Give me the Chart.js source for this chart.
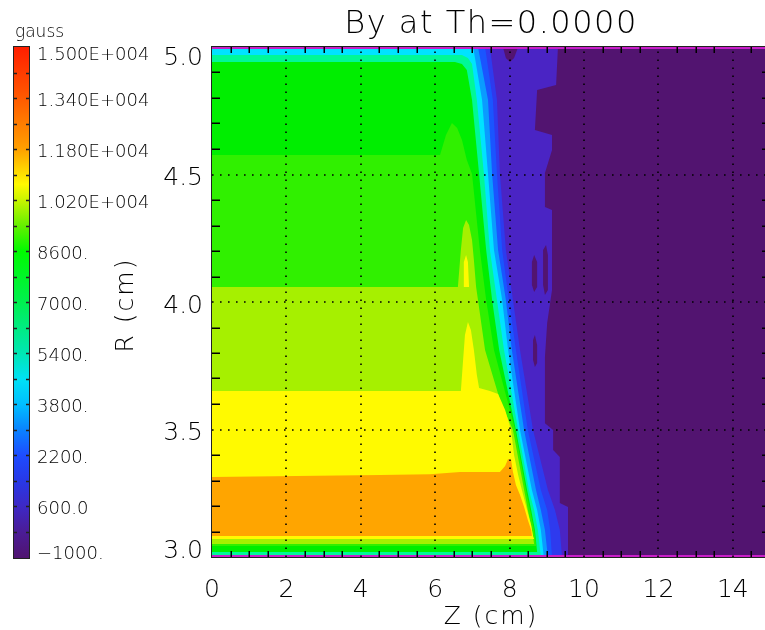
<!DOCTYPE html>
<html><head><meta charset="utf-8">
<script src="https://cdn.jsdelivr.net/npm/chart.js@4/dist/chart.umd.min.js"></script>
<style>html,body{margin:0;padding:0;background:#fff;overflow:hidden;}canvas{display:block;}</style>
</head><body>
<canvas id="c" width="775" height="630"></canvas>
<script>
// ---------- data (Z in cm, R in cm) ----------
const chartTitle = 'By at Th=0.0000';
const xTitle = 'Z (cm)';
const yTitle = 'R (cm)';
const unitLabel = 'gauss';
const zTicks = [0, 2, 4, 6, 8, 10, 12, 14];
const zTickLabels = ['0', '2', '4', '6', '8', '10', '12', '14'];
const rTicks = [3.0, 3.5, 4.0, 4.5, 5.0];
const rTickLabels = ['3.0', '3.5', '4.0', '4.5', '5.0'];
const cbTickValues = [-1000, 600, 2200, 3800, 5400, 7000, 8600, 10200, 11800, 13400, 15000];
const cbTickLabels = ['\u22121000.', '600.0', '2200.', '3800.', '5400.', '7000.', '8600.', '1.020E+004', '1.180E+004', '1.340E+004', '1.500E+004'];
const cbStopValues = [-1000, -200, 600, 1400, 2200, 3000, 3800, 4600, 5400, 7000, 8600, 9400, 10200, 10700, 11800, 13400, 15000];

// contour bands: polygons [Z, R], lowest level first
const bandPurple = [[0,5],[15,5],[15,3],[0,3]];
const bandViolet = [[0,5],[9.30,5],[9.25,4.851],[8.74,4.831],[8.68,4.675],[9.14,4.655],[9.14,4.596],[8.95,4.506],[8.95,4.373],[9.14,4.361],[9.14,4.047],[9.01,3.918],[8.95,3.784],[8.95,3.525],[9.17,3.498],[9.17,3.420],[9.35,3.392],[9.35,3.212],[9.57,3.196],[9.57,3],[0,3]];
const islandPurple1 = [[7.82,5],[8.23,5],[8.12,4.957],[8.01,4.941],[7.90,4.957]];
const islandPurple2 = [[8.60,4.157],[8.66,4.184],[8.74,4.157],[8.74,4.059],[8.66,4.039],[8.60,4.067]];
const islandPurple3 = [[8.90,4.204],[8.98,4.224],[9.03,4.184],[9.03,4.047],[8.95,4.027],[8.90,4.067]];
const islandPurple4 = [[8.63,3.851],[8.68,3.871],[8.74,3.831],[8.74,3.761],[8.68,3.745],[8.63,3.773]];
const bandBlue2 = [[0,5],[7.47,5],[7.66,4.792],[7.74,4.502],[7.90,4.204],[8.09,4.008],[8.28,3.812],[8.63,3.498],[9.03,3.263],[9.22,3.184],[9.35,3.106],[9.41,3],[0,3]];
const bandBlue = [[0,5],[7.34,5],[7.55,4.792],[7.66,4.502],[7.80,4.204],[7.98,4.008],[8.17,3.812],[8.49,3.498],[8.84,3.263],[9.01,3.184],[9.09,3.106],[9.14,3],[0,3]];
const bandLightBlue = [[0,5],[7.15,5],[7.42,4.792],[7.53,4.502],[7.69,4.204],[7.90,4.008],[8.06,3.812],[8.39,3.498],[8.71,3.263],[8.84,3.184],[8.95,3.106],[9.03,3],[0,3]];
const bandCyan = [[0,5],[7.02,5],[7.26,4.792],[7.42,4.502],[7.58,4.204],[7.80,4.008],[7.96,3.812],[8.28,3.498],[8.60,3.263],[8.74,3.184],[8.84,3.106],[8.92,3],[0,3]];
const bandAqua = [[0,4.969],[6.72,4.969],[6.88,4.957],[6.99,4.933],[7.12,4.792],[7.31,4.502],[7.47,4.204],[7.66,4.008],[7.85,3.812],[8.23,3.498],[8.52,3.263],[8.66,3.184],[8.76,3.106],[8.84,3],[0,3]];
const bandGreen = [[0,4.941],[6.53,4.941],[6.72,4.933],[6.85,4.910],[6.99,4.792],[7.18,4.502],[7.37,4.204],[7.53,4.008],[7.72,3.812],[8.17,3.498],[8.47,3.263],[8.58,3.184],[8.68,3.106],[8.74,3.020],[0,3.020]];
const bandLightGreen = [[0,4.576],[6.13,4.576],[6.29,4.655],[6.45,4.702],[6.59,4.682],[6.72,4.635],[6.85,4.557],[6.99,4.502],[7.20,4.204],[7.37,4.008],[7.58,3.812],[8.15,3.498],[8.44,3.263],[8.55,3.184],[8.66,3.106],[8.71,3.043],[0,3.043]];
const bandYellowGreen = [[0,4.059],[6.61,4.059],[6.69,4.204],[6.75,4.290],[6.83,4.322],[6.91,4.302],[6.99,4.243],[7.04,4.165],[7.10,4.059],[7.15,4.008],[7.34,3.812],[7.74,3.616],[8.09,3.498],[8.39,3.263],[8.49,3.184],[8.60,3.106],[8.66,3.051],[0,3.051]];
const islandYellow = [[6.75,4.059],[6.77,4.157],[6.83,4.184],[6.88,4.157],[6.91,4.059]];
const bandYellow = [[0,3.651],[6.69,3.651],[6.75,3.773],[6.80,3.871],[6.88,3.922],[6.96,3.890],[7.04,3.812],[7.12,3.714],[7.18,3.663],[7.47,3.651],[7.69,3.639],[7.88,3.576],[8.04,3.498],[8.12,3.400],[8.23,3.322],[8.33,3.263],[8.47,3.184],[8.58,3.125],[8.63,3.082],[8.66,3.071],[0,3.071]];
const bandOrange = [[0,3.314],[4.52,3.322],[5.86,3.325],[6.67,3.333],[7.74,3.333],[7.88,3.357],[7.96,3.384],[8.04,3.380],[8.09,3.333],[8.17,3.282],[8.28,3.243],[8.39,3.196],[8.49,3.145],[8.58,3.106],[8.60,3.082],[0,3.082]];

// ---------- styles ----------
const layers = [
  [bandPurple, '#521470'], [bandViolet, '#4A24C4'],
  [islandPurple1, '#521470'], [islandPurple2, '#521470'], [islandPurple3, '#521470'], [islandPurple4, '#521470'],
  [bandBlue2, '#2E3AEE'], [bandBlue, '#1A55FF'], [bandLightBlue, '#0A9BFF'], [bandCyan, '#00E3FF'],
  [bandAqua, '#00F896'], [bandGreen, '#00EE00'], [bandLightGreen, '#30F000'], [bandYellowGreen, '#A6F000'],
  [islandYellow, '#FFFA00'], [bandYellow, '#FFFA00'], [bandOrange, '#FFA500']
];
const cbStopColors = ['#501470','#4B1C96','#3E28C4','#2838E6','#1E4BFF','#0A82FF','#00BEFF','#00E1F5','#00E6B4','#00F050','#00FA00','#64F000','#C8F500','#FFFA00','#FFA000','#FF5A00','#FF1E00'];
const FONT = '"DejaVu Sans", "Liberation Sans", sans-serif';
const W = '200 ';
const TXT = '#000';

const datasets = layers.map((l, i) => ({
  data: l[0].map(p => ({x: p[0], y: p[1]})),
  backgroundColor: l[1],
  borderColor: 'rgba(0,0,0,0)',
  borderWidth: 0,
  pointRadius: 0,
  tension: 0,
  fill: 'shape',
  order: layers.length - i,
  xAxisID: 'x', yAxisID: 'y'
}));

const decor = {
  id: 'decor',
  afterDatasetsDraw(chart) {
    const {ctx, chartArea: a, scales: {x, y}} = chart;
    ctx.save();
    ctx.fillStyle = '#C81EC8';
    ctx.fillRect(a.left, a.top, a.right - a.left, 2);
    ctx.fillRect(a.left, a.bottom - 2, a.right - a.left, 2);
    ctx.strokeStyle = '#000';
    ctx.lineWidth = 1.6;
    ctx.setLineDash([1.6, 6.4]);
    zTicks.slice(1).forEach(v => {
      const px = Math.round(x.getPixelForValue(v));
      ctx.beginPath(); ctx.moveTo(px, a.bottom); ctx.lineTo(px, a.top); ctx.stroke();
    });
    rTicks.slice(1, -1).forEach(v => {
      const py = Math.round(y.getPixelForValue(v));
      ctx.beginPath(); ctx.moveTo(a.left, py); ctx.lineTo(a.right, py); ctx.stroke();
    });
    ctx.setLineDash([]);
    ctx.lineWidth = 1.5;
    ctx.beginPath();
    for (let k = 1; k < 30; k++) {
      if (k % 4 === 0) continue;
      const px = Math.round(x.getPixelForValue(k * 0.5)) + 0.25;
      ctx.moveTo(px, a.bottom); ctx.lineTo(px, a.bottom - 6);
      ctx.moveTo(px, a.top); ctx.lineTo(px, a.top + 6);
    }
    for (let k = 1; k < 20; k++) {
      if (k % 5 === 0) continue;
      const py = Math.round(y.getPixelForValue(3 + k * 0.1)) + 0.25;
      ctx.moveTo(a.left, py); ctx.lineTo(a.left + 8, py);
      ctx.moveTo(a.right, py); ctx.lineTo(a.right - 8, py);
    }
    ctx.stroke();
    ctx.strokeStyle = '#222';
    ctx.lineWidth = 1;
    ctx.strokeRect(a.left - 0.5, a.top - 0.5, a.right - a.left + 1, a.bottom - a.top + 1);
    ctx.restore();
  },
  afterDraw(chart) {
    const {ctx, chartArea: a, scales: {x, y, yCb}} = chart;
    ctx.save();
    const cbL = 14, cbW = 15;
    const y0 = yCb.getPixelForValue(-1000) + 1, y1 = yCb.getPixelForValue(15000);
    const g = ctx.createLinearGradient(0, y0, 0, y1);
    cbStopValues.forEach((v, i) => g.addColorStop((v + 1000) / 16000, cbStopColors[i]));
    ctx.fillStyle = g;
    ctx.fillRect(cbL, y1, cbW, y0 - y1);
    ctx.strokeStyle = '#222'; ctx.lineWidth = 1;
    ctx.strokeRect(cbL - 0.5, y1 - 0.5, cbW + 1, y0 - y1 + 1);
    ctx.beginPath();
    for (let v = -200; v < 15000; v += 800) {
      const py = Math.round(yCb.getPixelForValue(v)) + 0.5;
      ctx.moveTo(cbL, py); ctx.lineTo(cbL + 3, py);
      ctx.moveTo(cbL + cbW, py); ctx.lineTo(cbL + cbW - 3, py);
    }
    ctx.lineWidth = 1.5; ctx.stroke();
    ctx.fillStyle = TXT;
    ctx.font = W + '18px ' + FONT;
    ctx.textAlign = 'left'; ctx.textBaseline = 'alphabetic';
    cbTickValues.forEach((v, i) => {
      let by = yCb.getPixelForValue(v) + 7.5;
      by = Math.max(y1 + 13, Math.min(y0 + 1, by));
      ctx.fillText(cbTickLabels[i], 37, by);
    });
    ctx.font = W + '17px ' + FONT;
    ctx.fillText(unitLabel, 15, 37);
    ctx.font = W + '25px ' + FONT;
    ctx.textAlign = 'right';
    rTicks.forEach((v, i) => {
      let by = y.getPixelForValue(v) + 10.5;
      by = Math.max(a.top + 18, Math.min(a.bottom + 1, by));
      ctx.fillText(rTickLabels[i], 203, by);
    });
    ctx.textAlign = 'center';
    zTicks.forEach((v, i) => ctx.fillText(zTickLabels[i], x.getPixelForValue(v), 597));
    ctx.letterSpacing = '2px';
    ctx.fillText(xTitle, 491, 624);
    ctx.save();
    ctx.translate(133, 305); ctx.rotate(-Math.PI / 2);
    ctx.fillText(yTitle, 0, 0);
    ctx.restore();
    ctx.font = W + '32px ' + FONT;
    ctx.letterSpacing = '1.5px';
    ctx.fillText(chartTitle, 491, 33);
    ctx.restore();
  }
};

new Chart(document.getElementById('c'), {
  type: 'line',
  data: {datasets},
  options: {
    responsive: false,
    animation: false,
    events: [],
    layout: {padding: {left: 212, right: 5, top: 47, bottom: 73}},
    plugins: {legend: {display: false}, tooltip: {enabled: false}, title: {display: false}},
    scales: {
      x: {type: 'linear', min: 0, max: 15, display: false},
      y: {type: 'linear', min: 3, max: 5, display: false},
      yCb: {type: 'linear', axis: 'y', min: -1000, max: 15000, display: false}
    }
  },
  plugins: [decor]
});
</script>
</body></html>
